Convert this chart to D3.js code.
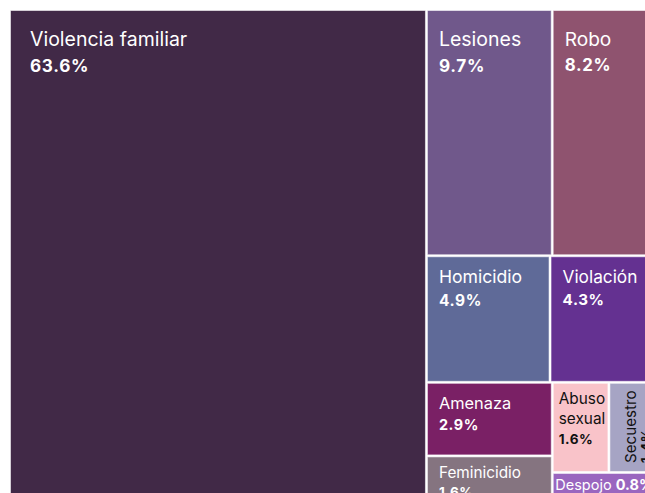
<!DOCTYPE html>
<html>
<head>
<meta charset="utf-8">
<script src="https://cdn.jsdelivr.net/npm/d3@7"></script>
<style>
  body { margin: 0; background: #fff; }
  svg { display: block; font-family: Inter, "Noto Sans", sans-serif; }
</style>
</head>
<body>
<div id="chart"></div>
<script>
// Delitos: participación en el total (%)
var categories = ["Violencia familiar", "Lesiones", "Robo", "Homicidio", "Violación",
  "Amenaza", "Feminicidio", "Abuso sexual", "Secuestro", "Despojo"];
var shares = [63.6, 9.7, 8.2, 4.9, 4.3, 2.9, 1.6, 1.6, 1.4, 0.8];
var colors = ["#412947", "#70588b", "#8f536f", "#5f6a98", "#643191",
  "#7a2065", "#857480", "#f9c3c9", "#a6a4c4", "#9a66bf"];

var width = 645, height = 493;

var svg = d3.select("#chart").append("svg")
    .attr("width", width)
    .attr("height", height);

var data = categories.map(function(c, i) {
  return { name: c, value: shares[i], color: colors[i] };
});

var root = d3.hierarchy({ children: data })
    .sum(function(d) { return d.value; })
    .sort(function(a, b) { return b.value - a.value; });

// the map is larger than the window, right and bottom get cut
d3.treemap()
    .tile(d3.treemapSquarify)
    .size([648, 486])
    .paddingInner(1)(root);

var fontScale = d3.scaleLinear().domain([50, 170]).range([14.5, 19.5]).clamp(true);
var fmt = d3.format(".1f");

var cell = svg.append("g")
    .attr("transform", "translate(10,10)")
  .selectAll("g")
    .data(root.leaves())
  .enter().append("g")
    .attr("transform", function(d) { return "translate(" + d.x0 + "," + d.y0 + ")"; });

cell.append("rect")
    .attr("x", 0.5)
    .attr("y", 0.5)
    .attr("width", function(d) { return d.x1 - d.x0 - 1; })
    .attr("height", function(d) { return d.y1 - d.y0 - 1; })
    .attr("fill", function(d) { return d.data.color; })
    .attr("stroke", "rgba(255,255,255,0.55)")
    .attr("stroke-width", 1);

cell.each(function(d) {
  var g = d3.select(this),
      w = d.x1 - d.x0,
      h = d.y1 - d.y0,
      fs = fontScale(Math.sqrt(w * h)),
      vfs = fs * 0.88,
      ink = d3.hsl(d.data.color).l > 0.65 ? "#111" : "#fff",
      val = fmt(d.data.value) + "%";

  // thin strip: name and value on one line
  if (h < 30) {
    var t = g.append("text")
        .attr("x", 2.5)
        .attr("y", 17)
        .attr("fill", ink)
        .style("font-size", "14.5px");
    t.append("tspan").text(d.data.name + " ");
    t.append("tspan").attr("font-weight", 700).text(val);
    return;
  }

  var padL = w > 300 ? 20 : (w > 80 ? 12 : 6);
  var padT = (w > 80 && h > 200) ? 22 : ((w > 80 && h > 60) ? 14 : 10);
  var room = w - padL - 2;

  // measure words to decide wrap or rotate
  var probe = g.append("text").style("font-size", fs + "px");
  var words = d3.map(d.data.name.split(" "), function(s) {
    probe.text(s);
    return { s: s, len: probe.node().getComputedTextLength() };
  });
  probe.text(d.data.name);
  var fullLen = probe.node().getComputedTextLength();
  probe.remove();

  var lines = [d.data.name];
  var rotate = d3.max(words, function(o) { return o.len; }) > room;
  if (!rotate && fullLen > room) lines = words.map(function(o) { return o.s; });

  var box = g;
  var x = padL, y = padT + fs * 0.727, gap = fs * 1.3;
  if (rotate) {
    box = g.append("g").attr("transform", "translate(0," + h + ") rotate(-90)");
    x = 9;
    y = 27;
    gap = fs * 0.98;
  }

  var lh = fs * 1.28;
  lines.forEach(function(line, i) {
    box.append("text")
        .attr("x", x)
        .attr("y", y + i * lh)
        .attr("fill", ink)
        .style("font-size", fs + "px")
        .text(line);
  });

  box.append("text")
      .attr("x", x)
      .attr("y", y + (lines.length - 1) * lh + gap)
      .attr("fill", ink)
      .attr("font-weight", 700)
      .style("font-size", vfs + "px")
      .style("letter-spacing", "0.04em")
      .text(val);
});
</script>
</body>
</html>
